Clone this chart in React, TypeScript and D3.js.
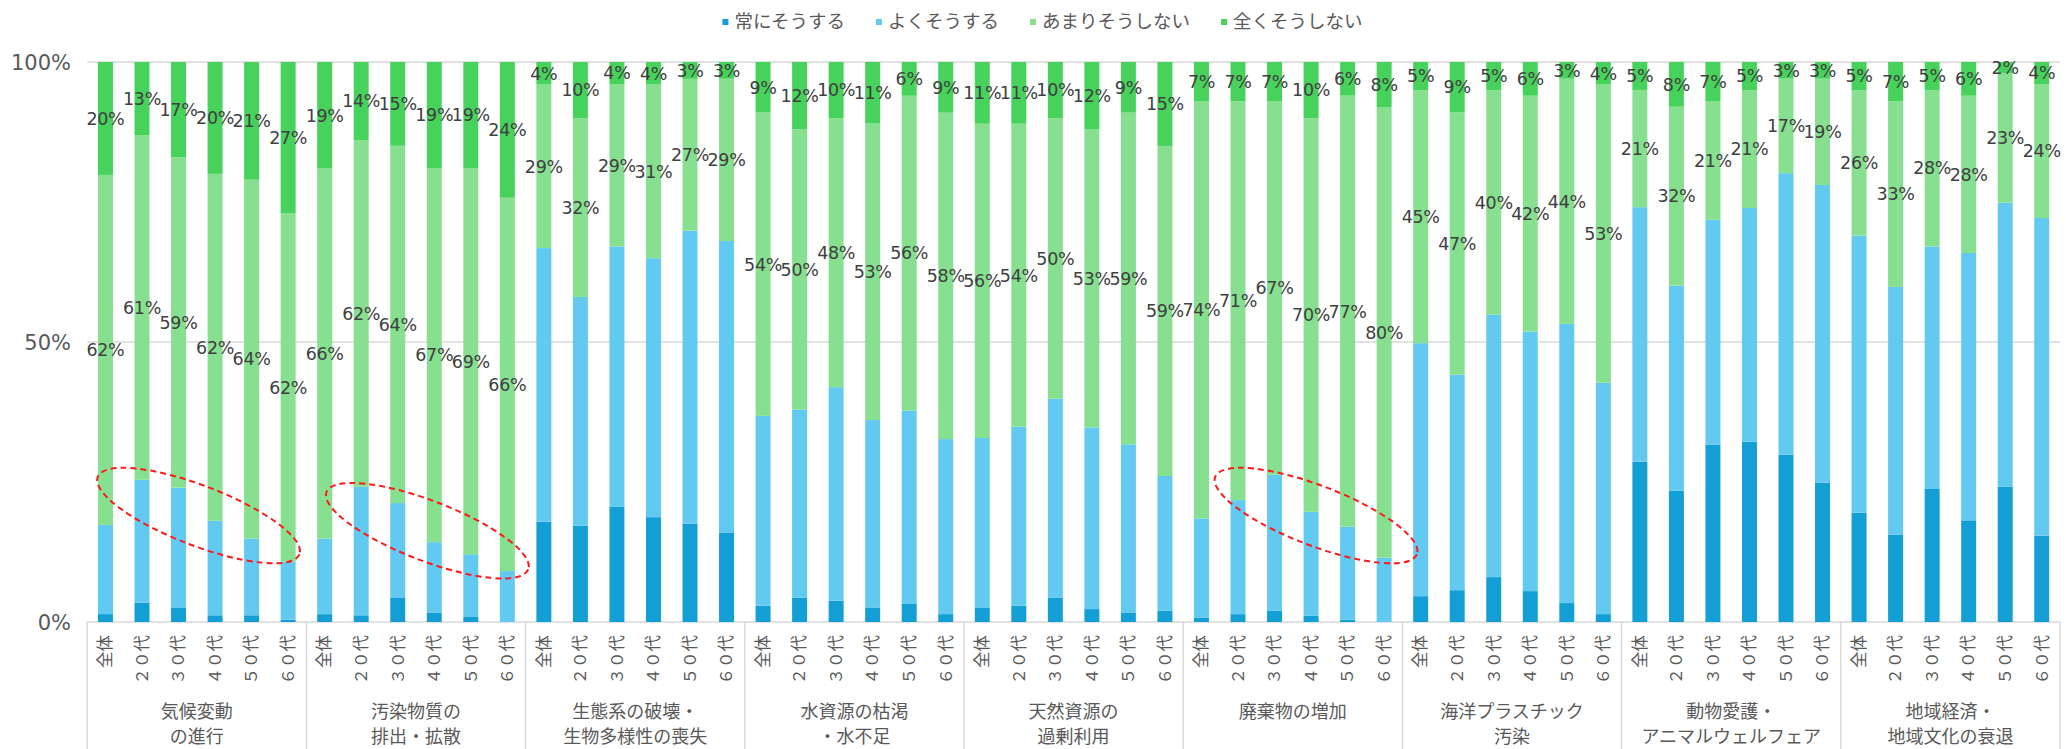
import React, { useEffect, useRef } from "react";
import * as d3 from "d3";

// Categories: two-line group names and the age brackets within each group
const groupLines: string[][] = [
  ["気候変動", "の進行"],
  ["汚染物質の", "排出・拡散"],
  ["生態系の破壊・", "生物多様性の喪失"],
  ["水資源の枯渇", "・水不足"],
  ["天然資源の", "過剰利用"],
  ["廃棄物の増加"],
  ["海洋プラスチック", "汚染"],
  ["動物愛護・", "アニマルウェルフェア"],
  ["地域経済・", "地域文化の衰退"],
];
const ages: string[] = ["全体", "２０代", "３０代", "４０代", "５０代", "６０代"];

const seriesNames: string[] = ["常にそうする", "よくそうする", "あまりそうしない", "全くそうしない"];
const seriesColors: string[] = ["#139fd6", "#62caf0", "#86e08f", "#46d25b"];

// Percentages per group (rows) and age bracket (columns)
const always: number[][] = [
  [1.4, 3.4, 2.6, 1.2, 1.2, 0.4],
  [1.4, 1.2, 4.3, 1.7, 0.9, 0],
  [17.8, 17.2, 20.6, 18.7, 17.5, 16.0],
  [2.9, 4.3, 3.8, 2.6, 3.2, 1.4],
  [2.6, 2.9, 4.3, 2.3, 1.7, 2.0],
  [0.8, 1.4, 2.0, 1.1, 0.4, 0],
  [4.6, 5.7, 8.0, 5.5, 3.4, 1.4],
  [28.7, 23.5, 31.5, 32.1, 30.1, 24.9],
  [19.5, 15.5, 23.8, 18.1, 24.1, 15.5],
];
const often: number[][] = [
  [15.8, 21.8, 21.4, 16.9, 13.7, 10.4],
  [13.5, 23.0, 17.0, 12.6, 11.2, 9.0],
  [48.5, 40.9, 46.6, 46.2, 52.1, 52.1],
  [33.8, 33.6, 38.1, 33.5, 34.4, 31.1],
  [30.2, 31.9, 35.5, 32.3, 29.9, 24.1],
  [17.6, 20.3, 24.4, 18.5, 16.6, 11.4],
  [45.0, 38.6, 46.8, 46.2, 50.1, 41.1],
  [45.6, 36.7, 39.9, 41.6, 50.6, 53.3],
  [49.5, 44.1, 43.4, 47.6, 50.5, 57.0],
];
const seldom: number[][] = [
  [62, 61, 59, 62, 64, 62],
  [66, 62, 64, 67, 69, 66],
  [29, 32, 29, 31, 27, 29],
  [54, 50, 48, 53, 56, 58],
  [56, 54, 50, 53, 59, 59],
  [74, 71, 67, 70, 77, 80],
  [45, 47, 40, 42, 44, 53],
  [21, 32, 21, 21, 17, 19],
  [26, 33, 28, 28, 23, 24],
];
const never: number[][] = [
  [20, 13, 17, 20, 21, 27],
  [19, 14, 15, 19, 19, 24],
  [4, 10, 4, 4, 3, 3],
  [9, 12, 10, 11, 6, 9],
  [11, 11, 10, 12, 9, 15],
  [7, 7, 7, 10, 6, 8],
  [5, 9, 5, 6, 3, 4],
  [5, 8, 7, 5, 3, 3],
  [5, 7, 5, 6, 2, 4],
];
const yTicks: number[] = [0, 0.5, 1];

// Highlight rings: group index, horizontal position inside the group (0..1), share level
const highlights = [
  { group: 0, at: 0.508, level: 0.19 },
  { group: 1, at: 0.552, level: 0.163 },
  { group: 5, at: 0.606, level: 0.19 },
];

const W = 2066;
const H = 749;
const FONT = "'Noto Sans CJK JP', 'Noto Sans', sans-serif";
const NUM_FONT = "'DejaVu Sans', 'Noto Sans', sans-serif";

export default function App() {
  const ref = useRef<SVGSVGElement | null>(null);

  useEffect(() => {
    const svg = d3.select(ref.current);
    svg.selectAll("*").remove();

    const left = 87.2;
    const right = 2060;
    const top = 62;
    const bottom = 622;

    const groupKeys = groupLines.map((l) => l.join(""));
    const x0 = d3.scaleBand<string>().domain(groupKeys).range([left, right]);
    const x1 = d3
      .scaleBand<string>()
      .domain(ages)
      .range([0, x0.bandwidth()])
      .paddingInner(0.59)
      .paddingOuter(0.295);
    const y = d3.scaleLinear().domain([0, 1]).range([bottom, top]);

    type Row = { key: string; g: number; a: number; [k: string]: number | string };
    const rows: Row[] = [];
    groupKeys.forEach((gk, gi) => {
      ages.forEach((age, ai) => {
        rows.push({
          key: gk + "|" + age,
          g: gi,
          a: ai,
          [seriesNames[0]]: always[gi][ai],
          [seriesNames[1]]: often[gi][ai],
          [seriesNames[2]]: seldom[gi][ai],
          [seriesNames[3]]: never[gi][ai],
        });
      });
    });

    const stacked = d3
      .stack<Row>()
      .keys(seriesNames)
      .value((d, k) => d[k] as number)
      .offset(d3.stackOffsetExpand)(rows);

    const barX = (r: Row) => (x0(groupKeys[r.g]) as number) + (x1(ages[r.a]) as number);

    // gridlines
    svg
      .append("g")
      .selectAll("line")
      .data(yTicks)
      .join("line")
      .attr("x1", left)
      .attr("x2", right)
      .attr("y1", (d) => y(d))
      .attr("y2", (d) => y(d))
      .attr("stroke", "#d9d9d9")
      .attr("stroke-width", 1.5);

    // y tick labels
    svg
      .append("g")
      .selectAll("text")
      .data(yTicks)
      .join("text")
      .attr("x", 71)
      .attr("y", (d) => y(d))
      .attr("dy", "0.36em")
      .attr("text-anchor", "end")
      .attr("font-family", NUM_FONT)
      .attr("font-size", 21)
      .attr("fill", "#595959")
      .text((d) => d3.format(".0%")(d));

    // bars
    const layers = svg
      .append("g")
      .selectAll("g")
      .data(stacked)
      .join("g")
      .attr("fill", (_, i) => seriesColors[i]);
    layers
      .selectAll("rect")
      .data((s) => s)
      .join("rect")
      .attr("x", (d) => barX(d.data))
      .attr("width", x1.bandwidth())
      .attr("y", (d) => y(d[1]))
      .attr("height", (d) => Math.max(0, y(d[0]) - y(d[1])));

    // value labels on the two "not doing" series
    const labelLayers = stacked.filter((_, i) => i >= 2);
    const labelSource = [seldom, never];
    svg
      .append("g")
      .selectAll("g")
      .data(labelLayers)
      .join("g")
      .each(function (s, li) {
        d3.select(this)
          .selectAll("text")
          .data(s)
          .join("text")
          .attr("x", (d) => barX(d.data) + x1.bandwidth() / 2)
          .attr("y", (d) => y((d[0] + d[1]) / 2))
          .attr("dy", "0.36em")
          .attr("text-anchor", "middle")
          .attr("font-family", NUM_FONT)
          .attr("font-size", 17.5)
          .attr("letter-spacing", -0.3)
          .attr("fill", "#404040")
          .text((d) => labelSource[li][d.data.g][d.data.a] + "%");
      });

    // category axis: group separators
    const axis = svg.append("g");
    axis
      .selectAll("line.sep")
      .data(d3.range(groupKeys.length + 1))
      .join("line")
      .attr("class", "sep")
      .attr("x1", (i) => left + i * x0.step())
      .attr("x2", (i) => left + i * x0.step())
      .attr("y1", bottom)
      .attr("y2", H)
      .attr("stroke", "#d9d9d9")
      .attr("stroke-width", 1.5);

    // age tick labels (rotated)
    axis
      .selectAll("text.age")
      .data(rows)
      .join("text")
      .attr("class", "age")
      .attr(
        "transform",
        (r) => `translate(${barX(r) + x1.bandwidth() / 2},${bottom + 13}) rotate(-90)`
      )
      .attr("dy", "0.35em")
      .attr("text-anchor", "end")
      .attr("font-family", FONT)
      .attr("font-size", 16.5)
      .attr("fill", "#595959")
      .text((r) => ages[r.a]);

    // group labels
    const gl = axis
      .selectAll("g.grp")
      .data(groupLines)
      .join("g")
      .attr("class", "grp")
      .attr(
        "transform",
        (_, i) => `translate(${(x0(groupKeys[i]) as number) + x0.bandwidth() / 2},0)`
      );
    gl.selectAll("text")
      .data((d) => d)
      .join("text")
      .attr("x", 0)
      .attr("y", (_, i) => 712 + i * 25)
      .attr("dy", "0.35em")
      .attr("text-anchor", "middle")
      .attr("font-family", FONT)
      .attr("font-size", 18)
      .attr("fill", "#595959")
      .text((d) => d);

    // dashed highlight rings
    svg
      .append("g")
      .selectAll("ellipse")
      .data(highlights)
      .join("ellipse")
      .attr("transform", (h) => {
        const cx = (x0(groupKeys[h.group]) as number) + h.at * x0.bandwidth();
        return `translate(${cx},${y(h.level)}) rotate(21)`;
      })
      .attr("rx", 108)
      .attr("ry", 30)
      .attr("fill", "none")
      .attr("stroke", "#ff1a1a")
      .attr("stroke-width", 2)
      .attr("stroke-dasharray", "6 4");

    // legend
    const legend = svg.append("g");
    const items = legend
      .selectAll("g")
      .data(seriesNames)
      .join("g");
    items
      .append("rect")
      .attr("width", 6)
      .attr("height", 6)
      .attr("y", -3)
      .attr("fill", (_, i) => seriesColors[i]);
    const texts = items
      .append("text")
      .attr("x", 12)
      .attr("dy", "0.35em")
      .attr("font-family", FONT)
      .attr("font-size", 18.5)
      .attr("fill", "#595959")
      .text((d) => d);
    const widths: number[] = [];
    texts.each(function () {
      widths.push((this as SVGTextElement).getComputedTextLength());
    });
    const gap = 31;
    const itemW = widths.map((w) => 12 + w);
    const total = d3.sum(itemW) + gap * (itemW.length - 1);
    let cursor = 1042.5 - total / 2;
    items.attr("transform", (_, i) => {
      const t = `translate(${cursor},22)`;
      cursor += itemW[i] + gap;
      return t;
    });
  }, []);

  return (
    <svg
      ref={ref}
      width={W}
      height={H}
      style={{ position: "absolute", left: 0, top: 0, background: "#fff" }}
    />
  );
}
